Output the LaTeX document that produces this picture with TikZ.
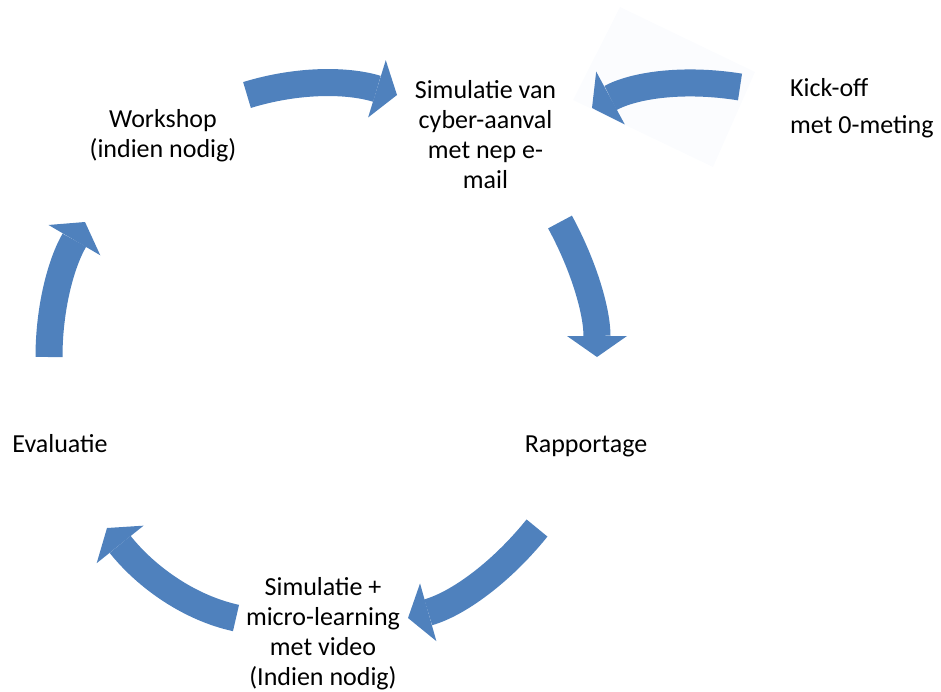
\documentclass[tikz,border=0pt]{standalone}
\usepackage{fontspec}
\setmainfont{Carlito}
\usetikzlibrary{arrows.meta}
\definecolor{cycleblue}{RGB}{79,129,189}
\definecolor{paperwhite}{RGB}{251,252,254}

\begin{document}
\begin{tikzpicture}[x=1pt, y=-1pt,
	every node/.style={font=\fontsize{26}{30}\selectfont, inner sep=0pt},
	steptext/.style={align=center, anchor=base},
	cyclearrow/.style={draw=cycleblue, line width=27pt, -{Triangle[width=60pt, length=21pt, line width=0pt]}}
	]
\useasboundingbox (0,0) rectangle (941,691);

% Steps (base = last line)
\node [steptext] (workshop) at (163,157) {Workshop\\(indien nodig)};
\node [steptext] (simulatie) at (485.5,188) {Simulatie van\\cyber-aanval\\met nep e-\\mail};
\node [steptext, align=left, anchor=base west, font=\fontsize{26}{37}\selectfont] (kickoff) at (790,133) {Kick-off\\met 0-meting};
\node [steptext] (rapportage) at (586,452) {Rapportage};
\node [steptext] (simplus) at (323,685) {Simulatie +\\micro-learning\\met video\\(Indien nodig)};
\node [steptext] (evaluatie) at (60,452) {Evaluatie};

% Kick-off
\fill [paperwhite] (620,7) -- (755,72) -- (713,167) -- (573,100) -- cycle;
\coordinate (kick-tail) at (740,87);
\coordinate (kick-tip) at (592,108);
\draw [cyclearrow] (kick-tail) .. controls (684,78) and (634.5,85) .. (kick-tip);

% Cycle
\coordinate (ws-tail) at (247,95);
\coordinate (sim-tip) at (397,95);
\draw [cyclearrow] (ws-tail) .. controls (297,79.6) and (347,79.6) .. (sim-tip);

\coordinate (sim-tail) at (560,222);
\coordinate (rap-tip) at (597,357);
\draw [cyclearrow] (sim-tail) .. controls (584.7,267.5) and (597,312.3) .. (rap-tip);

\coordinate (rap-tail) at (537,528);
\coordinate (simplus-tip) at (408,618);
\draw [cyclearrow] (rap-tail) .. controls (499.7,574.2) and (456.7,604.2) .. (simplus-tip);

\coordinate (simplus-tail) at (236,618);
\coordinate (eval-tip) at (107,528);
\draw [cyclearrow] (simplus-tail) .. controls (190,608) and (147,578) .. (eval-tip);

\coordinate (eval-tail) at (49,357);
\coordinate (ws-tip) at (85,222);
\draw [cyclearrow] (eval-tail) .. controls (49,308) and (61,263) .. (ws-tip);

\end{tikzpicture}
\end{document}
